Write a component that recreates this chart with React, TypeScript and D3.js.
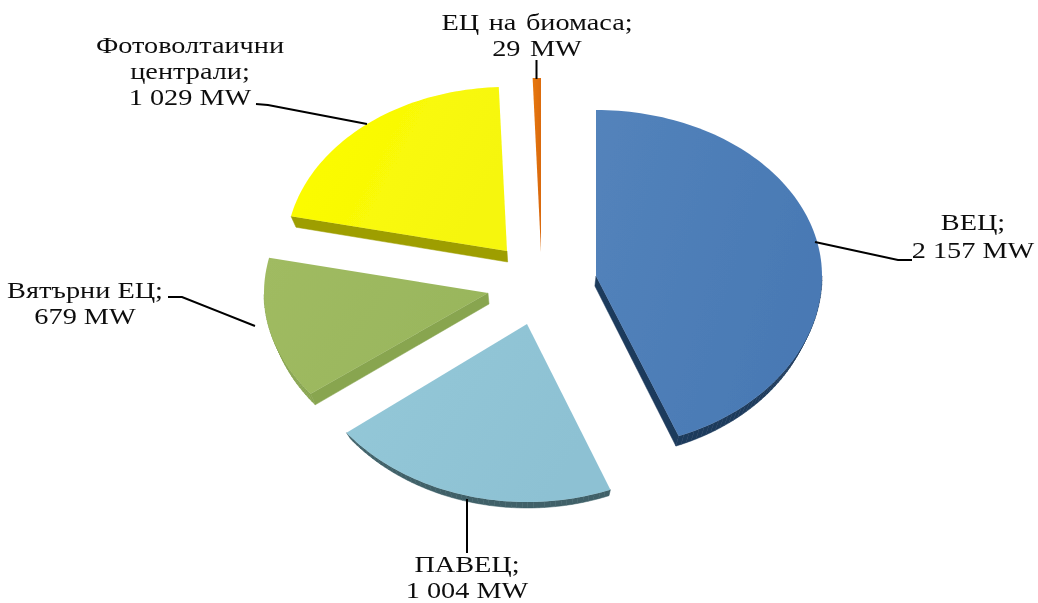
import React from "react";
import * as d3 from "d3";

const categories = ["ВЕЦ", "ПАВЕЦ", "Вятърни ЕЦ", "Фотоволтаични централи", "ЕЦ на биомаса"];
const values = [2157, 1004, 679, 1029, 29];

// layout of the exploded slices: where each apex sits on the page, and each slice's ellipse radii
const apexX = [596, 527, 488, 507, 541];
const apexY = [276, 324, 293, 251, 252];
const radiusX = [226, 228, 224, 221, 225];
const radiusTop = [166, 166, 166, 164, 174];
const radiusBottom = [172, 178, 165, 165, 172];
const depths = [10, 6, 11, 11, 0];
const topColors = ["#5383bb", "#94c8d8", "#a0bb62", "#fdfd00", "#e8780f"];
const lowColors = ["#4979b4", "#8dc1d3", "#99b65c", "#f6f60c", "#da6a10"];
const wallColors = ["#1d3a5c", "#3f6068", "#88a550", "#9e9e00", "#b05a10"];
const labelLines = [
  ["ВЕЦ;", "2 157 MW"],
  ["ПАВЕЦ;", "1 004 MW"],
  ["Вятърни ЕЦ;", "679 MW"],
  ["Фотоволтаични", "централи;", "1 029 MW"],
  ["ЕЦ на биомаса;", "29 MW"],
];
const labelX = [973, 467, 85, 190, 537];
const labelY = [[230, 258], [572, 598], [298, 324], [53, 79, 105], [30, 56]];
const leaders: [number, number][][] = [
  [[815, 242], [898, 260], [912, 260]],
  [[467, 499], [467, 553]],
  [[168, 297], [182, 297], [255, 326]],
  [[256, 104], [268, 105], [367, 124]],
  [[536.5, 60], [536.5, 79]],
];

const pieGen = d3.pie<number>().sort(null).value((d) => d);
const arcs = pieGen(values);

function point(i: number, a: number): [number, number] {
  const s = Math.sin(a);
  const c = Math.cos(a);
  return [apexX[i] + radiusX[i] * s, apexY[i] - (c > 0 ? radiusTop[i] : radiusBottom[i]) * c];
}
function outline(i: number): [number, number][] {
  const { startAngle, endAngle } = arcs[i];
  const n = Math.max(4, Math.ceil((endAngle - startAngle) * 40));
  const scale = d3.scaleLinear().domain([0, n]).range([startAngle, endAngle]);
  return [[apexX[i], apexY[i]], ...d3.range(n + 1).map((k) => point(i, scale(k)))];
}
function drop(i: number, p: [number, number]): [number, number] {
  return [p[0] - 0.02 * (p[0] - 540), p[1] + depths[i]];
}
const line = d3.line();

export default function App() {
  return (
    <svg
      width={1038}
      height={603}
      style={{ position: "absolute", left: 0, top: 0, background: "#fff" }}
      fontFamily="'Liberation Serif', serif"
    >
      <defs>
        <filter id="soft" x="-5%" y="-5%" width="110%" height="110%">
          <feGaussianBlur stdDeviation="0.45" />
        </filter>
        {categories.map((_, i) => (
          <linearGradient key={i} id={`g${i}`} x1="0" y1="0" x2="1" y2="0.4">
            <stop offset="0" stopColor={topColors[i]} />
            <stop offset="1" stopColor={lowColors[i]} />
          </linearGradient>
        ))}
      </defs>
      <g filter="url(#soft)">
        {categories.map((name, i) => {
          const pts = outline(i);
          const closed = [...pts, pts[0]];
          const front = depths[i] > 0 ? d3.pairs(closed).filter(([a, b]) => b[0] < a[0]) : [];
          return (
            <g key={name}>
              {front.map(([a, b], k) => (
                <path
                  key={k}
                  d={(line([a, b, drop(i, b), drop(i, a)]) as string) + "Z"}
                  fill={wallColors[i]}
                  stroke={wallColors[i]}
                  strokeWidth={0.5}
                />
              ))}
              <path d={(line(pts) as string) + "Z"} fill={`url(#g${i})`} />
            </g>
          );
        })}
        {leaders.map((l, i) => (
          <path key={i} d={line(l) as string} fill="none" stroke="#000" strokeWidth={2} />
        ))}
        {labelLines.map((lines, i) => (
          <text
            key={i}
            transform={`translate(${labelX[i]},0) scale(1.23,1)`}
            textAnchor="middle"
            fontSize={23}
            fill="#111"
            wordSpacing={i === 4 ? 2 : 0}
          >
            {lines.map((t, k) => (
              <tspan key={k} x={0} y={labelY[i][k]}>
                {t}
              </tspan>
            ))}
          </text>
        ))}
      </g>
    </svg>
  );
}
